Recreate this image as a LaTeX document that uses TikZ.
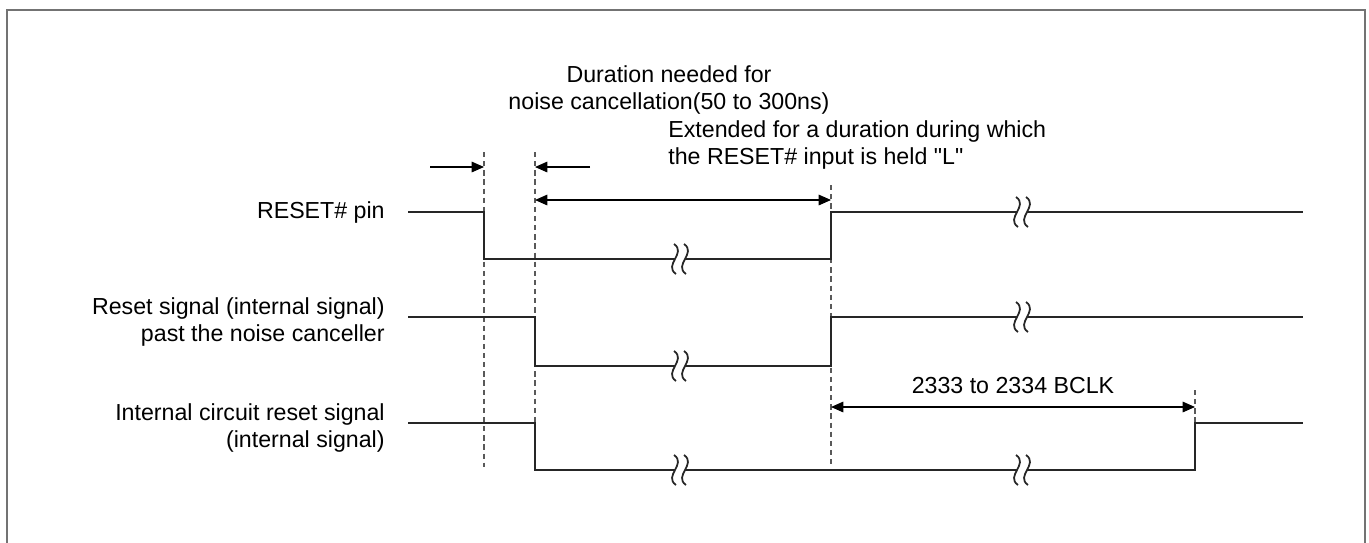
\documentclass[tikz,border=0pt]{standalone}
\usepackage{fontspec}
\setmainfont{Liberation Sans}[Ligatures=TeXOff]
\usetikzlibrary{arrows.meta}
\tikzset{
  sig/.style={line width=1.2pt, black!85},
  guide/.style={black!65, line width=0.7pt, dash pattern=on 3pt off 2.2pt},
  dim/.style={line width=0.7pt, -{Triangle[length=7pt,width=6pt]}},
  ddim/.style={line width=0.7pt, {Triangle[length=7pt,width=6pt]}-{Triangle[length=7pt,width=6pt]}},
  lbl/.style={font=\fontsize{13.2}{15.4}\selectfont, inner sep=0pt},
  pics/wavebreak/.style={code={
    \fill[white] (-5,-6) rectangle (5,6);
    \foreach \d in {-5,5}
      \draw[line width=1pt, black!85] (\d-1,-15) .. controls (\d+12,-6) and (\d-12,6) .. (\d+1,15);
  }},
}
\begin{document}
\begin{tikzpicture}[x=0.02cm, y=-0.02cm]
    % Rahmen (unten offen)
    \clip (0,0) rectangle (1369,542);
    \draw[black!55, line width=1.1pt] (7,10) rectangle (1365,600);
    % Zeitmarken
    \coordinate (t1) at (484,0);
    \coordinate (t2) at (535,0);
    \coordinate (t3) at (831,0);
    \coordinate (t4) at (1195,0);
    \draw[guide] (484,152) -- (484,467);
    \draw[guide] (535,152) -- (535,467);
    \draw[guide] (831,185) -- (831,467);
    \draw[guide] (1195,390) -- (1195,467);
    % Signale
    \draw[sig] (408,212) -- (484,212) -- (484,259) -- (831,259) -- (831,212) -- (1303,212);
    \draw[sig] (408,317) -- (535,317) -- (535,366) -- (831,366) -- (831,317) -- (1303,317);
    \draw[sig] (408,423) -- (535,423) -- (535,470) -- (1195,470) -- (1195,423) -- (1303,423);
    % Unterbrechungen
    \foreach \y in {259,366,470} \pic at (680,\y) {wavebreak};
    \foreach \y in {212,317,470} \pic at (1022,\y) {wavebreak};
    % Masspfeile
    \coordinate (n1) at (430,167);
    \coordinate (n2) at (590,167);
    \draw[dim] (n1) -- (t1 |- n1);
    \draw[dim] (n2) -- (t2 |- n2);
    \draw[ddim] (t2 |- 0,200) -- (t3 |- 0,200);
    \draw[ddim] (t3 |- 0,407) -- (t4 |- 0,407);
    % Beschriftungen
    \node[lbl, anchor=east] (pinlbl) at (385,212) {RESET\# pin};
    \node[lbl, anchor=east, align=right] (rstlbl) at (385,322) {Reset signal (internal signal)\\past the noise canceller};
    \node[lbl, anchor=east, align=right] (intlbl) at (385,428) {Internal circuit reset signal\\(internal signal)};
    \node[lbl, align=center] (noiselbl) at (669,90) {Duration needed for\\noise cancellation(50 to 300ns)};
    \node[lbl, anchor=west, align=left] (extlbl) at (668,145) {Extended for a duration during which\\the RESET\# input is held "L"};
    \node[lbl] (bclklbl) at (1013,386) {2333 to 2334 BCLK};
\end{tikzpicture}
\end{document}
